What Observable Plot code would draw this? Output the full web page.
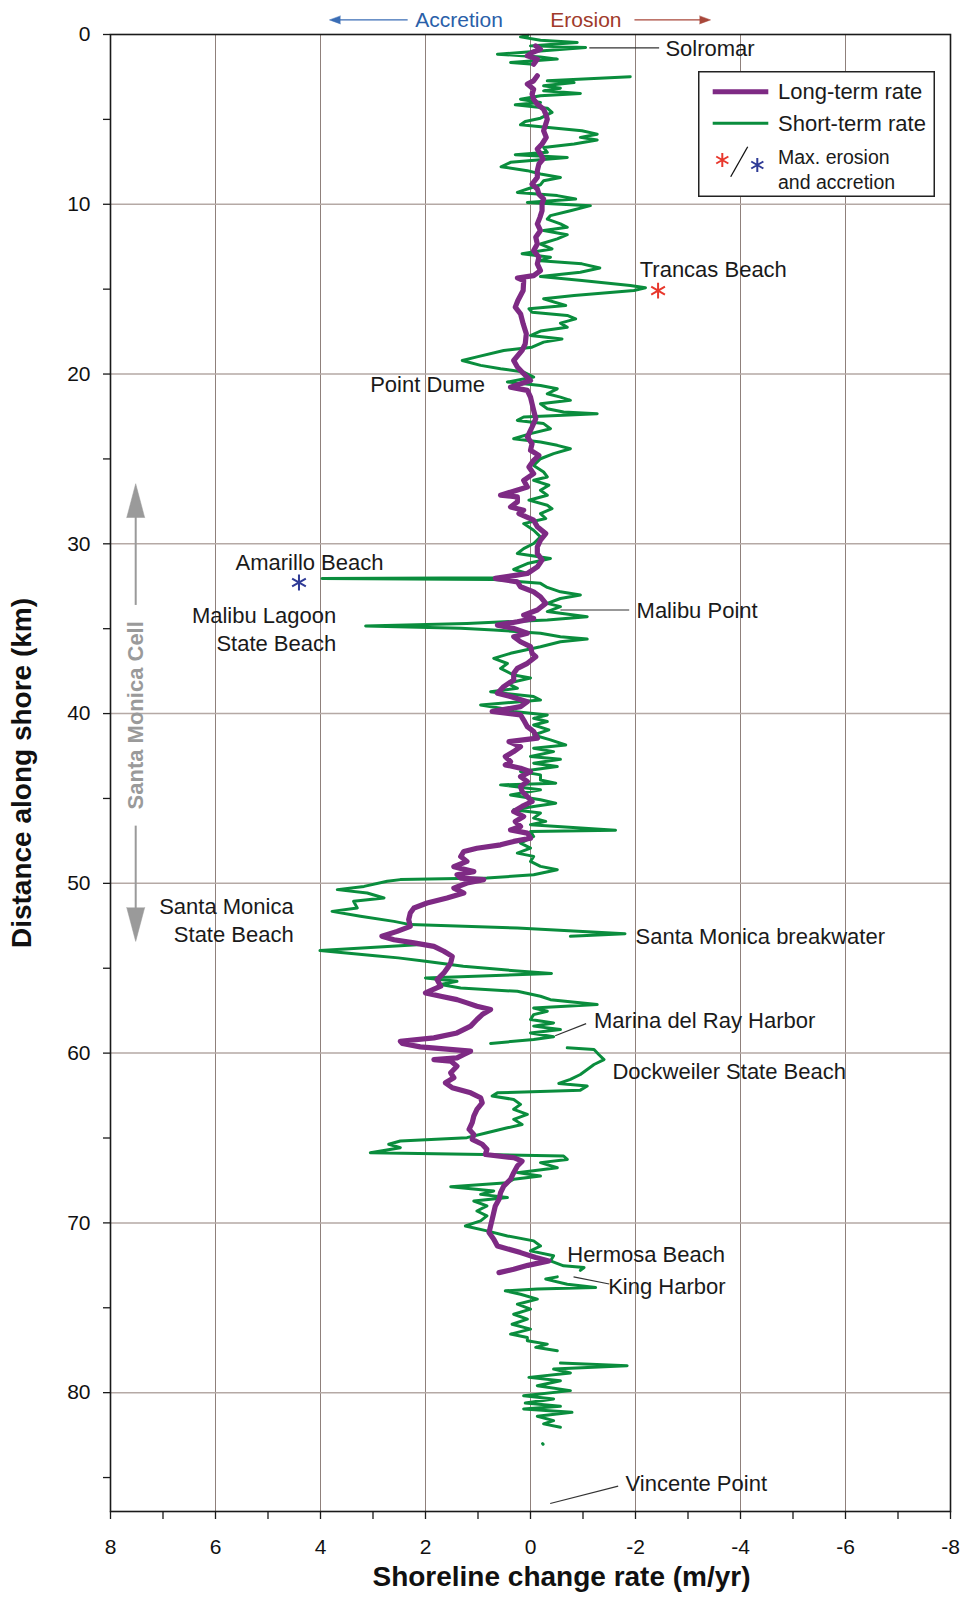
<!DOCTYPE html>
<html><head><meta charset="utf-8">
<script src="https://cdn.jsdelivr.net/npm/d3@7"></script>
<script src="https://cdn.jsdelivr.net/npm/@observablehq/plot@0.6"></script>
<style>
body{margin:0;background:#fff;font-family:"Liberation Sans",Arial,Helvetica,sans-serif;}
#wrap{position:relative;width:961px;height:1597px;}
#legend{position:absolute;left:698px;top:71px;width:237px;height:126px;}
</style></head><body><div id="wrap"></div>
<script>
// Short-term rate (m/yr; positive = accretion), by distance along shore (km); null = gap
const shortKm = [0.05,0.14,0.34,0.47,0.67,0.77,0.96,1.16,1.32,1.45,1.65,1.75,null,
2.49,2.73,2.83,3.02,3.16,3.32,3.47,3.61,3.81,4.00,4.14,4.34,4.59,4.93,5.12,5.32,5.51,5.67,5.87,6.06,6.22,6.45,6.65,6.94,7.08,7.24,7.53,7.79,8.02,8.22,8.42,8.61,8.85,9.10,9.30,9.49,9.69,9.89,
10.08,10.38,10.67,10.87,11.16,11.36,11.55,11.79,12.04,12.34,12.63,12.92,13.12,13.32,13.51,13.75,14.00,14.26,14.49,14.79,14.92,15.08,15.38,15.57,15.96,16.16,16.36,16.55,16.75,17.00,17.24,17.47,17.73,17.93,18.12,18.42,
18.61,18.99,19.20,19.49,19.69,19.88,20.18,20.47,20.67,20.87,21.16,21.36,21.55,21.75,22.04,22.24,22.34,22.53,22.73,22.92,23.22,23.51,23.81,24.00,24.20,24.40,24.69,24.99,25.38,25.77,26.06,26.26,26.55,26.85,27.14,27.43,27.73,27.93,28.22,28.51,28.81,29.20,29.59,29.98,
30.28,30.57,30.87,31.16,31.51,31.75,32.00,32.05,32.10,32.33,32.57,32.83,33.02,33.22,33.51,33.70,33.99,34.29,34.49,34.69,34.84,34.98,35.07,35.27,35.47,35.61,35.77,36.06,36.45,36.75,
37.05,37.34,37.73,37.90,38.22,38.51,38.71,39.00,39.20,39.49,39.69,39.88,40.08,40.28,40.47,40.67,40.96,41.26,41.55,41.85,42.04,42.24,42.53,42.69,42.92,43.12,43.41,43.61,43.91,44.10,44.20,44.49,44.79,45.08,45.28,45.47,45.67,45.86,46.16,46.35,46.55,46.87,46.94,47.24,47.63,47.92,48.22,48.41,48.71,49.00,49.20,49.49,
49.69,49.78,49.88,50.18,50.37,50.57,50.86,51.06,51.45,51.65,51.94,52.24,52.43,52.63,52.97,53.12,null,
53.60,53.96,54.26,54.39,54.59,54.88,55.18,55.31,55.57,55.77,55.96,56.16,56.36,56.65,56.85,57.14,57.34,57.53,57.73,58.02,58.22,58.41,58.61,58.81,59.04,59.20,59.43,null,
59.69,59.79,60.08,60.38,60.67,60.96,61.26,61.55,61.79,61.94,62.18,62.34,62.53,62.73,63.02,63.31,63.61,63.90,64.20,64.40,64.69,64.98,65.18,65.37,65.57,65.87,65.97,66.06,66.26,66.45,66.75,67.04,67.24,67.43,67.63,67.87,68.12,68.32,68.51,68.71,69.00,69.30,69.59,69.88,70.18,70.47,70.77,71.06,71.36,71.65,71.94,72.24,72.53,72.63,72.80,null,
73.18,73.31,73.61,73.81,73.90,74.00,74.20,74.49,74.79,75.08,75.38,75.67,75.97,76.26,76.55,76.75,76.94,77.14,77.33,77.53,null,
78.26,78.41,78.61,78.84,79.10,79.30,79.59,79.88,80.18,80.37,80.61,80.80,80.96,81.16,81.39,81.65,81.84,82.04,null,
83.00,83.04];
const shortRate = [0.05,0.19,-0.19,-0.89,0,-1.05,-0.25,0.63,-0.19,-0.51,0.38,-0.06,null,
-1.90,-0.32,-0.83,-0.25,-0.57,-0.25,-0.95,-0.19,0.19,-0.19,0.29,-0.32,-0.41,-0.19,0.10,0.19,-0.44,-0.98,-1.27,-0.95,-1.27,-0.83,-0.25,-0.32,0.29,-0.70,0.38,0.56,0.06,-0.19,-0.57,-0.25,-0.19,0.06,0.25,-0.51,-0.86,0.06,
-1.14,-0.76,-0.38,-0.32,-0.57,-0.70,-0.25,-0.70,-0.51,-0.19,-0.41,0.16,-0.38,-0.19,-0.98,-1.32,-0.95,-0.19,-0.98,-1.90,-2.19,-1.97,-0.83,-0.25,-0.67,0.03,-0.03,-0.70,-0.86,-0.57,-0.70,-0.19,0,-0.60,-0.25,-0.03,
0.51,1.02,1.30,0.95,0.57,0.13,-0.06,0.44,-0.19,-0.51,-0.32,-0.57,-0.76,-0.19,-0.32,-0.63,-1.27,0.13,0.25,-0.25,-0.38,0,0.32,-0.19,-0.51,-0.76,-0.44,-0.19,-0.06,-0.25,-0.32,-0.06,-0.35,-0.19,-0.32,0.03,-0.32,-0.41,-0.19,-0.29,0.13,-0.06,-0.19,-0.06,
0.13,0.25,-0.38,0.06,0.32,0.06,0.50,3.97,0.70,-0.19,-0.32,-0.57,-0.95,-0.57,-0.32,-0.57,-0.32,-1.08,-0.32,1.21,3.14,1.33,0.70,-0.19,-0.57,-1.08,-0.57,-0.19,0.38,0.70,
0.44,0.57,0.32,0,0.44,0.25,0.76,-0.06,-0.19,0.95,0.57,0.32,-0.32,-0.06,-0.32,-0.06,-0.35,-0.06,-0.38,-0.67,-0.06,-0.44,0,-0.57,-0.06,-0.51,0.19,-0.19,-0.19,-0.48,0.57,-0.19,0.38,-0.19,-0.48,-0.06,0.32,-0.19,-0.06,-0.29,0,-1.62,0,-0.06,0.19,0,0.25,-0.06,0,-0.19,-0.51,-0.06,
0.83,2.48,2.73,3.17,3.68,3.11,2.79,3.37,3.30,3.78,3.24,2.60,2.29,0.25,-1.80,-0.76,null,
2.08,4.01,2.96,2.52,2.00,1.28,0.18,-0.40,2.00,1.40,1.71,1.33,0.25,-0.19,-0.38,-1.27,-0.06,-0.32,-0.06,0,-0.44,-0.06,-0.57,0,-0.44,-0.06,0.76,null,
-0.70,-1.21,-1.30,-1.40,-1.21,-1.08,-0.95,-0.76,-0.54,-1.08,-0.95,0.63,0.73,0.32,0.19,0.32,0.06,0.32,0.16,0.44,0.83,1.21,2.48,2.70,2.48,3.05,0.89,-0.63,-0.70,-0.19,-0.51,0.25,-0.19,0.32,0.44,1.52,0.70,0.95,0.44,1.08,0.83,1.02,0.83,0.95,1.24,0.83,0.44,-0.06,-0.19,0,-0.44,-0.38,-0.63,-1.02,-0.95,null,
-0.51,-0.29,-0.70,-1.24,-0.13,0.48,0.19,-0.13,0.25,0,0.32,0.06,0.35,0,0.38,0.06,0.06,-0.32,-0.10,-0.51,null,
-0.57,-1.84,-0.44,-0.76,0.03,-0.57,-0.13,-0.76,0.13,-0.44,0.10,-0.57,0.13,-0.79,-0.13,-0.44,-0.25,-0.57,null,
-0.23,-0.24];

// Long-term rate
const longKm = [0.67,0.87,1.06,1.26,1.45,1.75,null,
2.43,2.73,2.92,3.22,3.51,3.81,4.10,4.40,4.69,4.99,5.28,5.67,6.06,6.45,6.75,7.04,7.34,7.63,8.02,8.42,8.81,9.10,9.40,9.69,9.98,10.38,10.77,11.16,11.55,11.94,12.34,12.73,13.12,13.51,13.91,14.20,14.34,14.49,15.08,15.67,16.06,16.45,17.04,17.63,18.22,
18.61,19.20,19.59,19.98,20.38,20.77,20.96,21.36,21.75,22.14,22.63,23.12,23.71,24.10,24.49,24.79,25.08,25.47,25.87,26.26,26.65,27.14,27.24,27.53,27.83,28.02,28.22,28.61,29.00,29.40,29.79,30.18,30.57,30.96,31.36,31.75,32.04,32.24,32.53,32.83,33.12,33.51,33.90,34.20,34.40,34.59,34.79,34.98,35.27,35.47,35.77,36.06,36.45,
36.65,37.04,37.34,37.63,38.02,38.41,38.80,39.00,39.30,39.59,39.88,40.08,40.38,40.77,41.06,41.45,41.65,41.95,42.24,42.53,42.83,43.02,43.22,43.42,43.71,44.00,44.30,44.59,44.89,45.18,45.47,45.77,46.06,46.36,46.65,46.85,47.04,47.34,47.53,47.73,47.93,48.12,48.42,48.71,49.02,49.31,49.49,49.69,49.78,49.98,50.28,50.57,50.86,51.16,51.45,51.75,52.14,52.53,52.83,53.12,53.32,53.51,53.71,54.00,54.30,54.69,
54.89,55.28,55.67,56.06,56.45,56.65,56.85,57.04,57.24,57.43,57.73,58.02,58.41,58.81,59.10,59.30,59.43,59.63,59.88,60.08,60.28,60.38,60.47,60.77,61.16,61.45,61.75,62.04,62.34,62.63,62.93,63.32,63.71,64.10,64.49,64.79,65.08,65.37,65.67,65.97,66.16,66.36,66.65,67.04,67.43,67.83,68.22,68.61,69.00,69.40,69.79,70.18,70.57,70.96,71.36,71.75,72.04,72.24,72.50,72.73,72.93];
const longRate = [-0.10,-0.19,-0.03,0.06,-0.13,-0.06,null,
-0.13,-0.06,0.06,-0.06,-0.03,-0.06,-0.13,-0.25,-0.29,-0.32,-0.29,-0.25,-0.30,-0.22,-0.13,-0.19,-0.24,-0.16,-0.13,-0.13,-0.03,-0.13,-0.16,-0.25,-0.22,-0.22,-0.18,-0.13,-0.19,-0.10,-0.13,-0.06,-0.16,-0.13,-0.19,-0.06,0.25,0.13,0.14,0.24,0.29,0.19,0.14,0.08,0.10,
0.16,0.32,0.25,0.13,0,0.38,0.06,0,-0.03,-0.06,-0.10,-0.03,0.06,-0.03,0,-0.16,-0.06,0.03,-0.06,0.13,0.06,0.57,0.25,0.25,0.38,0.13,0.22,-0.06,-0.13,-0.29,-0.19,-0.13,-0.13,-0.22,-0.13,0.06,0.67,0.25,0.19,-0.06,-0.19,-0.29,-0.13,0.13,-0.06,0.25,0.63,0.32,0.06,0.32,0.19,0,-0.03,
-0.10,0.06,0.25,0.32,0.32,0.51,0.63,0.38,0.06,0.19,0.73,0.19,0.13,0.06,-0.06,-0.13,0.41,0.19,0.32,0.48,0.38,0.48,0.19,0,0.19,0.06,0.19,0.16,0.06,-0.03,0.16,0.32,0.13,0.29,0.19,0.38,0.06,0,0.32,0.57,1.02,1.27,1.33,1.21,1.46,1.08,1.40,1.33,0.89,1.21,1.46,1.27,1.59,1.97,2.22,2.29,2.32,2.29,2.54,2.83,2.60,2.22,1.84,1.65,1.49,1.52,
1.56,1.65,1.78,1.71,2.00,1.71,1.40,1.21,1.02,0.76,0.92,1.02,1.14,1.40,1.84,2.48,2.44,2.10,1.14,1.27,1.40,1.84,1.52,1.40,1.52,1.46,1.62,1.49,1.14,0.95,0.92,1.02,1.08,1.11,1.17,1.08,1.11,0.92,0.83,0.86,0.32,0.16,0.25,0.32,0.38,0.51,0.57,0.60,0.67,0.70,0.73,0.76,0.79,0.70,0.63,0.19,-0.10,-0.35,0.05,0.32,0.60];

// Axis ticks
const xTicks = [8,7,6,5,4,3,2,1,0,-1,-2,-3,-4,-5,-6,-7,-8];
const xLabels = [8,6,4,2,0,-2,-4,-6,-8];
const xGrid = [6,4,2,0,-2,-4,-6];
const yTicks = [0,5,10,15,20,25,30,35,40,45,50,55,60,65,70,75,80,85];
const yLabels = [0,10,20,30,40,50,60,70,80];
const yGrid = [10,20,30,40,50,60,70,80];

// Place annotations
const annoLabel = ["Solromar","Trancas Beach","Point Dume","Amarillo Beach","Malibu Lagoon\nState Beach","Malibu Point","Santa Monica\nState Beach","Santa Monica breakwater","Marina del Ray Harbor","Dockweiler State Beach","Hermosa Beach","King Harbor","Vincente Point"];
const annoRate = [-2.57,-2.08,0.865,2.80,3.70,-2.02,4.51,-2.00,-1.21,-1.56,-0.70,-1.48,-1.81];
const annoKm = [0.72,13.77,20.54,31.02,34.97,33.83,52.12,53.05,58.02,61.02,71.80,73.66,85.26];
const annoAnchor = ["start","start","end","end","end","start","end","start","start","start","start","start","start"];
// Leader lines
const leadRate1 = [-1.12,-0.57,-0.47,-0.82,-0.375];
const leadKm1 = [0.79,33.90,58.98,73.18,86.53];
const leadRate2 = [-2.45,-1.88,-1.06,-1.50,-1.67];
const leadKm2 = [0.79,33.90,58.26,73.60,85.51];
// Max erosion / accretion markers
const maxErosion = {rate:-2.43, km:15.09};
const maxAccretion = {rate:4.41, km:32.28};

const shortData = shortKm.map((k,i)=>({km:k, rate:shortRate[i]}));
const longData = longKm.map((k,i)=>({km:k, rate:longRate[i]}));
const annos = annoLabel.map((t,i)=>({text:t, rate:annoRate[i], km:annoKm[i], anchor:annoAnchor[i]}));
const leaders = leadRate1.map((r,i)=>({x1:r, y1:leadKm1[i], x2:leadRate2[i], y2:leadKm2[i]}));

const cellX = 7.52;
const cellSegs = [{a:26.8,b:33.6},{a:46.6,b:53.1}];
const cellHeads = [{km:26.46, rot:0},{km:53.42, rot:180}];

const topLabels = [{t:"Accretion", x:1.36, c:"#2a5fa9"},{t:"Erosion", x:-1.055, c:"#a03a2a"}];
const topArrows = [{x1:2.34, x2:3.72, tip:3.83, rot:-90, c:"#3a6db5"},{x1:-1.98, x2:-3.32, tip:-3.43, rot:90, c:"#a8473a"}];
const topY = -0.86;

const green = "#0a8d3d", purple = "#7e2a84";

const chart = Plot.plot({
  width: 961, height: 1597,
  marginLeft: 110, marginRight: 11, marginTop: 34, marginBottom: 86,
  x: {domain: [8,-8], axis: null},
  y: {domain: [0,87], reverse: true, axis: null},
  style: {fontFamily: "'Liberation Sans', Arial, Helvetica, sans-serif", fontSize: "20px", color: "#111", background: "white", overflow: "visible"},
  marks: [
    Plot.ruleX(xGrid, {stroke: "#8f807b", strokeWidth: 1}),
    Plot.ruleY(yGrid, {stroke: "#b5a9a5", strokeWidth: 1.5}),
    Plot.line(shortData, {x: "rate", y: "km", stroke: green, strokeWidth: 3, strokeLinejoin: "round", strokeLinecap: "round"}),
    Plot.line(longData, {x: "rate", y: "km", stroke: purple, strokeWidth: 5.2, strokeLinejoin: "round", strokeLinecap: "round"}),
    Plot.frame({stroke: "#1a1a1a", strokeWidth: 1.6}),
    Plot.axisX({anchor: "bottom", ticks: xTicks, tickSize: 8, fill: "none", label: null, stroke: "#1a1a1a", strokeWidth: 1.3}),
    Plot.axisX({anchor: "bottom", ticks: xLabels, tickSize: 0, tickPadding: 28, tickFormat: d => String(d), label: null, fontSize: 21, fill: "#111"}),
    Plot.axisY({anchor: "left", ticks: yTicks, tickSize: 7, fill: "none", label: null, stroke: "#1a1a1a", strokeWidth: 1.3}),
    Plot.axisY({anchor: "left", ticks: yLabels, tickSize: 0, tickPadding: 20, tickFormat: d => String(d), label: null, fontSize: 21, fill: "#111"}),
    Plot.text(["Distance along shore (km)"], {text: d => d, frameAnchor: "left", textAnchor: "middle", lineAnchor: "middle", rotate: -90, dx: -88, fontSize: 28, fontWeight: "bold"}),
    Plot.text(["Shoreline change rate (m/yr)"], {text: d => d, frameAnchor: "bottom", textAnchor: "middle", lineAnchor: "middle", dx: 31, dy: 66, fontSize: 28, fontWeight: "bold"}),
    // Santa Monica cell arrow
    Plot.link(cellSegs, {x1: () => cellX, x2: () => cellX, y1: "a", y2: "b", stroke: "#9a9a9a", strokeWidth: 2}),
    Plot.vector(cellHeads, {x: () => cellX, y: "km", rotate: "rot", length: 34, r: 9, shape: "spike", anchor: "end", fill: "#9a9a9a", stroke: "#9a9a9a", strokeWidth: 0.5}),
    Plot.text(["Santa Monica Cell"], {text: d => d, x: () => cellX, y: () => 40.1, rotate: -90, fontSize: 22, fontWeight: "bold", fill: "#9a9a9a"}),
    // annotations
    Plot.link(leaders, {x1: "x1", y1: "y1", x2: "x2", y2: "y2", stroke: "#333", strokeWidth: 1.2}),
    Plot.text(annos.filter(d => d.anchor === "start"), {x: "rate", y: "km", text: "text", textAnchor: "start", fontSize: 22, lineHeight: 1.25, fill: "#1a1a1a"}),
    Plot.text(annos.filter(d => d.anchor === "end"), {x: "rate", y: "km", text: "text", textAnchor: "end", fontSize: 22, lineHeight: 1.25, fill: "#1a1a1a"}),
    Plot.dot([maxErosion], {x: "rate", y: "km", symbol: "asterisk", r: 7.5, stroke: "#e8372c", strokeWidth: 2}),
    Plot.dot([maxAccretion], {x: "rate", y: "km", symbol: "asterisk", r: 7.5, stroke: "#2e3a96", strokeWidth: 2}),
    // top direction labels
    Plot.text(topLabels, {x: "x", y: () => topY, text: "t", fill: "c", fontSize: 21}),
    Plot.link(topArrows, {x1: "x1", x2: "x2", y1: () => topY, y2: () => topY, stroke: "c", strokeWidth: 1.3}),
    Plot.vector(topArrows, {x: "tip", y: () => topY, rotate: "rot", length: 11, r: 4, shape: "spike", anchor: "end", fill: "c", stroke: "c", strokeWidth: 0.5})
  ]
});
const wrap = document.getElementById("wrap");
wrap.appendChild(chart);

function ast(cx, cy, r, col){
  let p = "";
  for (const a of [90, 30, -30]) {
    const t = a*Math.PI/180, dx = r*Math.cos(t), dy = r*Math.sin(t);
    p += `M${(cx-dx).toFixed(2)},${(cy-dy).toFixed(2)}L${(cx+dx).toFixed(2)},${(cy+dy).toFixed(2)}`;
  }
  return `<path d="${p}" stroke="${col}" stroke-width="2" fill="none"/>`;
}
const leg = document.createElement("div");
leg.id = "legend";
leg.innerHTML = `<svg width="237" height="126" font-family="'Liberation Sans', Arial, sans-serif" fill="#1a1a1a">
<rect x="0.75" y="0.75" width="235.5" height="124.5" fill="white" stroke="#222" stroke-width="1.5"/>
<line x1="14.7" x2="70.3" y1="20.7" y2="20.7" stroke="${purple}" stroke-width="5"/>
<text x="80" y="20.7" dominant-baseline="central" font-size="22">Long-term rate</text>
<line x1="14.7" x2="70.3" y1="52.3" y2="52.3" stroke="${green}" stroke-width="3"/>
<text x="80" y="52.3" dominant-baseline="central" font-size="22">Short-term rate</text>
${ast(24.3, 89, 7, "#e8372c")}
<line x1="32.7" y1="105.7" x2="49.7" y2="75.7" stroke="#111" stroke-width="1.3"/>
${ast(59.3, 94, 7, "#2e3a96")}
<text x="80" y="85.7" dominant-baseline="central" font-size="19.5">Max. erosion</text>
<text x="80" y="110.7" dominant-baseline="central" font-size="19.5">and accretion</text>
</svg>`;
wrap.appendChild(leg);
</script></body></html>
